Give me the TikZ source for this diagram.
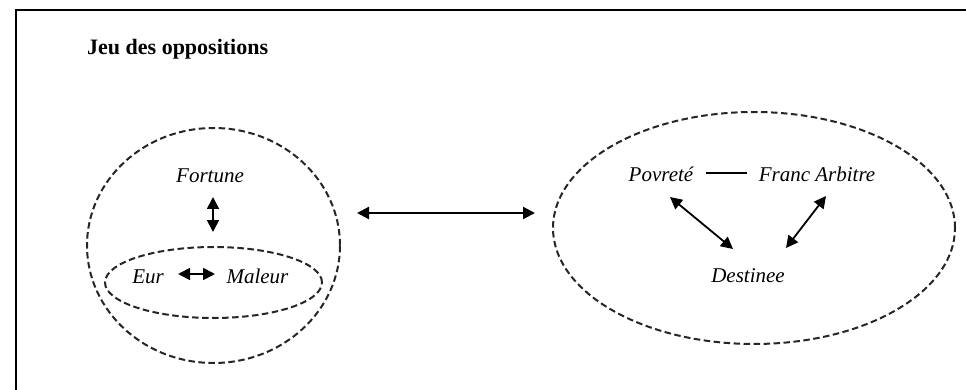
\documentclass[tikz,border=0pt]{standalone}
\usepackage{fontspec}
\setmainfont{Liberation Serif}
\usetikzlibrary{shapes.geometric,arrows.meta}
\begin{document}
\begin{tikzpicture}[x=1pt,y=-1pt,
  lbl/.style={font=\fontsize{21}{24}\selectfont\itshape, inner sep=0pt, anchor=base},
  zone/.style={draw, ellipse, inner sep=0pt, line width=2pt, dash pattern=on 6.5pt off 3.5pt, draw=black!85},
  dbl/.style={{Triangle[length=12pt,width=12pt]}-{Triangle[length=12pt,width=12pt]}, line width=1.8pt},
  frameline/.style={line width=2.4pt}]
\useasboundingbox (0,0) rectangle (966,390);
% partial frame
\coordinate (fa) at (16,390);
\coordinate (fb) at (16,10);
\coordinate (fc) at (966,10);
\draw[frameline] (fa) -- (fb) -- (fc);
% title
\node[font=\fontsize{22}{26}\selectfont\bfseries, inner sep=0pt, anchor=base west] (title) at (87,55) {Jeu des oppositions};
% left group
\node[zone, minimum width=253pt, minimum height=235pt] (outer) at (213.5,245.5) {};
\node[zone, minimum width=217pt, minimum height=71pt] (inner) at (213.5,282.5) {};
\node[lbl] (fortune) at (210,183) {Fortune};
\node[lbl] (eur) at (148,283) {Eur};
\node[lbl] (maleur) at (257.5,283) {Maleur};
\coordinate (va) at (213,197);
\coordinate (vb) at (213,232);
\draw[dbl] (va) -- (vb);
\coordinate (ha) at (178,274);
\coordinate (hb) at (215,274);
\draw[dbl] (ha) -- (hb);
% right group
\node[zone, minimum width=402pt, minimum height=232pt] (right) at (754,228) {};
\node[lbl] (povrete) at (661,182) {Povreté};
\node[lbl] (franc) at (817,182) {Franc Arbitre};
\node[lbl] (destinee) at (748,282) {Destinee};
\coordinate (la) at (706,173);
\coordinate (lb) at (747,173);
\draw[line width=2pt] (la) -- (lb);
\coordinate (pa) at (670,197);
\coordinate (pb) at (733,249);
\draw[dbl] (pa) -- (pb);
\coordinate (qa) at (826,196);
\coordinate (qb) at (786,248);
\draw[dbl] (qa) -- (qb);
% link between groups
\coordinate (ba) at (357,213);
\coordinate (bb) at (535,213);
\draw[dbl, line width=2.2pt] (ba) -- (bb);
\end{tikzpicture}
\end{document}
